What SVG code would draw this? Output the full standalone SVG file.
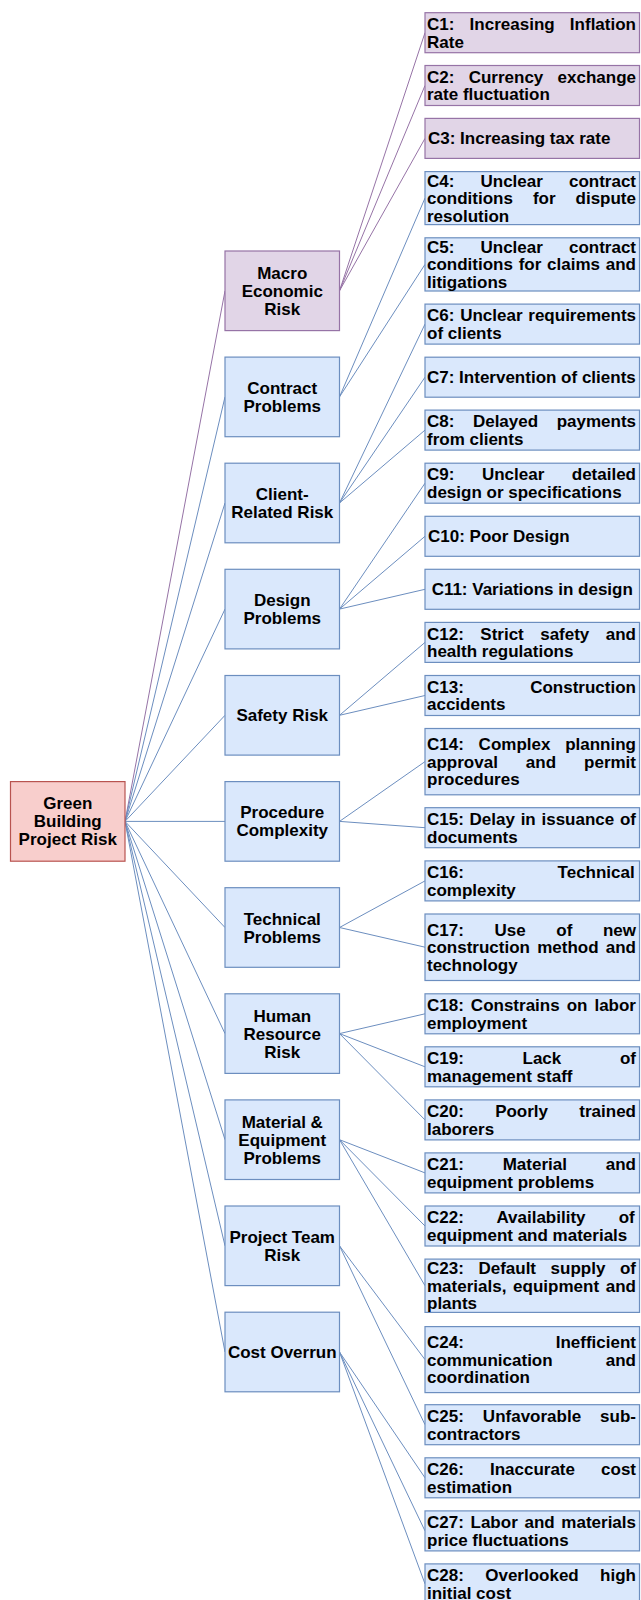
<svg xmlns="http://www.w3.org/2000/svg" width="641" height="1600" viewBox="0 0 641 1600">
  <style>
    .lbl { font-family: "Liberation Sans", Arial, Helvetica, sans-serif; font-weight: bold; font-size: 17px; fill: #000; }
    .mid { text-anchor: middle; }
    .root { fill: #f8cecc; stroke: #b85450; stroke-width: 1.2; }
    .pur { fill: #e1d5e7; stroke: #9673a6; stroke-width: 1.2; }
    .blu { fill: #dae8fc; stroke: #6c8ebf; stroke-width: 1.2; }
    .ep { stroke: #9673a6; stroke-width: 1; fill: none; }
    .eb { stroke: #6c8ebf; stroke-width: 1; fill: none; }
  </style>

  <!-- connectors: root to categories, categories to factors -->
  <g id="connectors">
    <line class="ep" x1="125" y1="821.4" x2="225" y2="290.8"/>
    <line class="ep" x1="339.5" y1="290.8" x2="425" y2="32.7"/>
    <line class="ep" x1="339.5" y1="290.8" x2="425" y2="85.5"/>
    <line class="ep" x1="339.5" y1="290.8" x2="425" y2="138.4"/>

    <line class="eb" x1="125" y1="821.4" x2="225" y2="396.9"/>
    <line class="eb" x1="125" y1="821.4" x2="225" y2="503"/>
    <line class="eb" x1="125" y1="821.4" x2="225" y2="609.1"/>
    <line class="eb" x1="125" y1="821.4" x2="225" y2="715.3"/>
    <line class="eb" x1="125" y1="821.4" x2="225" y2="821.4"/>
    <line class="eb" x1="125" y1="821.4" x2="225" y2="927.5"/>
    <line class="eb" x1="125" y1="821.4" x2="225" y2="1033.6"/>
    <line class="eb" x1="125" y1="821.4" x2="225" y2="1139.7"/>
    <line class="eb" x1="125" y1="821.4" x2="225" y2="1245.8"/>
    <line class="eb" x1="125" y1="821.4" x2="225" y2="1352"/>

    <line class="eb" x1="339.5" y1="396.9" x2="425" y2="198.1"/>
    <line class="eb" x1="339.5" y1="396.9" x2="425" y2="264.4"/>

    <line class="eb" x1="339.5" y1="503" x2="425" y2="324.1"/>
    <line class="eb" x1="339.5" y1="503" x2="425" y2="377.2"/>
    <line class="eb" x1="339.5" y1="503" x2="425" y2="430.1"/>

    <line class="eb" x1="339.5" y1="609.1" x2="425" y2="483.2"/>
    <line class="eb" x1="339.5" y1="609.1" x2="425" y2="536.3"/>
    <line class="eb" x1="339.5" y1="609.1" x2="425" y2="589.3"/>

    <line class="eb" x1="339.5" y1="715.3" x2="425" y2="642.4"/>
    <line class="eb" x1="339.5" y1="715.3" x2="425" y2="695.5"/>

    <line class="eb" x1="339.5" y1="821.4" x2="425" y2="761.6"/>
    <line class="eb" x1="339.5" y1="821.4" x2="425" y2="827.7"/>

    <line class="eb" x1="339.5" y1="927.5" x2="425" y2="880.9"/>
    <line class="eb" x1="339.5" y1="927.5" x2="425" y2="947.2"/>

    <line class="eb" x1="339.5" y1="1033.6" x2="425" y2="1013.8"/>
    <line class="eb" x1="339.5" y1="1033.6" x2="425" y2="1066.8"/>
    <line class="eb" x1="339.5" y1="1033.6" x2="425" y2="1119.9"/>

    <line class="eb" x1="339.5" y1="1139.7" x2="425" y2="1172.9"/>
    <line class="eb" x1="339.5" y1="1139.7" x2="425" y2="1226"/>
    <line class="eb" x1="339.5" y1="1139.7" x2="425" y2="1285.7"/>

    <line class="eb" x1="339.5" y1="1245.8" x2="425" y2="1359.6"/>
    <line class="eb" x1="339.5" y1="1245.8" x2="425" y2="1424.7"/>

    <line class="eb" x1="339.5" y1="1352" x2="425" y2="1477.8"/>
    <line class="eb" x1="339.5" y1="1352" x2="425" y2="1530.9"/>
    <line class="eb" x1="339.5" y1="1352" x2="425" y2="1583.9"/>
  </g>

  <!-- root -->
  <g id="root">
    <rect class="root" x="10.5" y="781.6" width="114.5" height="79.6"/>
    <text class="lbl mid" x="67.75" y="809.4">Green</text>
    <text class="lbl mid" x="67.75" y="827.4">Building</text>
    <text class="lbl mid" x="67.75" y="845.4">Project Risk</text>
  </g>

  <!-- risk categories -->
  <g id="macro">
    <rect class="pur" x="225" y="251" width="114.5" height="79.6"/>
    <text class="lbl mid" x="282.25" y="278.8">Macro</text>
    <text class="lbl mid" x="282.25" y="296.8">Economic</text>
    <text class="lbl mid" x="282.25" y="314.8">Risk</text>
  </g>
  <g id="contract">
    <rect class="blu" x="225" y="357.1" width="114.5" height="79.6"/>
    <text class="lbl mid" x="282.25" y="393.9">Contract</text>
    <text class="lbl mid" x="282.25" y="411.9">Problems</text>
  </g>
  <g id="client">
    <rect class="blu" x="225" y="463.2" width="114.5" height="79.6"/>
    <text class="lbl mid" x="282.25" y="500">Client-</text>
    <text class="lbl mid" x="282.25" y="518">Related Risk</text>
  </g>
  <g id="design">
    <rect class="blu" x="225" y="569.3" width="114.5" height="79.6"/>
    <text class="lbl mid" x="282.25" y="606.1">Design</text>
    <text class="lbl mid" x="282.25" y="624.1">Problems</text>
  </g>
  <g id="safety">
    <rect class="blu" x="225" y="675.5" width="114.5" height="79.6"/>
    <text class="lbl mid" x="282.25" y="721.3">Safety Risk</text>
  </g>
  <g id="procedure">
    <rect class="blu" x="225" y="781.6" width="114.5" height="79.6"/>
    <text class="lbl mid" x="282.25" y="818.4">Procedure</text>
    <text class="lbl mid" x="282.25" y="836.4">Complexity</text>
  </g>
  <g id="technical">
    <rect class="blu" x="225" y="887.7" width="114.5" height="79.6"/>
    <text class="lbl mid" x="282.25" y="924.5">Technical</text>
    <text class="lbl mid" x="282.25" y="942.5">Problems</text>
  </g>
  <g id="human">
    <rect class="blu" x="225" y="993.8" width="114.5" height="79.6"/>
    <text class="lbl mid" x="282.25" y="1021.6">Human</text>
    <text class="lbl mid" x="282.25" y="1039.6">Resource</text>
    <text class="lbl mid" x="282.25" y="1057.6">Risk</text>
  </g>
  <g id="material">
    <rect class="blu" x="225" y="1099.9" width="114.5" height="79.6"/>
    <text class="lbl mid" x="282.25" y="1127.7">Material &amp;</text>
    <text class="lbl mid" x="282.25" y="1145.7">Equipment</text>
    <text class="lbl mid" x="282.25" y="1163.7">Problems</text>
  </g>
  <g id="team">
    <rect class="blu" x="225" y="1206" width="114.5" height="79.6"/>
    <text class="lbl mid" x="282.25" y="1242.8">Project Team</text>
    <text class="lbl mid" x="282.25" y="1260.8">Risk</text>
  </g>
  <g id="cost">
    <rect class="blu" x="225" y="1312.2" width="114.5" height="79.6"/>
    <text class="lbl mid" x="282.25" y="1358">Cost Overrun</text>
  </g>

  <!-- risk factors -->
  <g id="c1">
    <rect class="pur" x="425" y="12.7" width="214.5" height="40"/>
    <text class="lbl" x="427" y="29.9" word-spacing="10.5">C1: Increasing Inflation</text>
    <text class="lbl" x="427" y="47.5">Rate</text>
  </g>
  <g id="c2">
    <rect class="pur" x="425" y="65.5" width="214.5" height="40"/>
    <text class="lbl" x="427" y="82.7" word-spacing="9.55">C2: Currency exchange</text>
    <text class="lbl" x="427" y="100.3">rate fluctuation</text>
  </g>
  <g id="c3">
    <rect class="pur" x="425" y="118.4" width="214.5" height="40"/>
    <text class="lbl" x="428" y="144.4">C3: Increasing tax rate</text>
  </g>
  <g id="c4">
    <rect class="blu" x="425" y="171.6" width="214.5" height="53"/>
    <text class="lbl" x="427" y="186.5" word-spacing="21.37">C4: Unclear contract</text>
    <text class="lbl" x="427" y="204.1" word-spacing="15.24">conditions for dispute</text>
    <text class="lbl" x="427" y="221.7">resolution</text>
  </g>
  <g id="c5">
    <rect class="blu" x="425" y="237.8" width="214.5" height="53.2"/>
    <text class="lbl" x="427" y="252.8" word-spacing="21.37">C5: Unclear contract</text>
    <text class="lbl" x="427" y="270.4" word-spacing="1.02">conditions for claims and</text>
    <text class="lbl" x="427" y="288">litigations</text>
  </g>
  <g id="c6">
    <rect class="blu" x="425" y="304.1" width="214.5" height="40"/>
    <text class="lbl" x="427" y="321.3" word-spacing="1.05">C6: Unclear requirements</text>
    <text class="lbl" x="427" y="338.9">of clients</text>
  </g>
  <g id="c7">
    <rect class="blu" x="425" y="357.2" width="214.5" height="40"/>
    <text class="lbl" x="427" y="383.2">C7: Intervention of clients</text>
  </g>
  <g id="c8">
    <rect class="blu" x="425" y="410.1" width="214.5" height="40"/>
    <text class="lbl" x="427" y="427.3" word-spacing="13.8">C8: Delayed payments</text>
    <text class="lbl" x="427" y="444.9">from clients</text>
  </g>
  <g id="c9">
    <rect class="blu" x="425" y="463.2" width="214.5" height="40"/>
    <text class="lbl" x="427" y="480.4" word-spacing="22.78">C9: Unclear detailed</text>
    <text class="lbl" x="427" y="498">design or specifications</text>
  </g>
  <g id="c10">
    <rect class="blu" x="425" y="516.3" width="214.5" height="40"/>
    <text class="lbl" x="428" y="542.3">C10: Poor Design</text>
  </g>
  <g id="c11">
    <rect class="blu" x="425" y="569.3" width="214.5" height="40"/>
    <text class="lbl mid" x="532.25" y="595.3">C11: Variations in design</text>
  </g>
  <g id="c12">
    <rect class="blu" x="425" y="622.4" width="214.5" height="40"/>
    <text class="lbl" x="427" y="639.6" word-spacing="11.72">C12: Strict safety and</text>
    <text class="lbl" x="427" y="657.2">health regulations</text>
  </g>
  <g id="c13">
    <rect class="blu" x="425" y="675.5" width="214.5" height="40"/>
    <text class="lbl" x="427" y="692.7" word-spacing="61.64">C13: Construction</text>
    <text class="lbl" x="427" y="710.3">accidents</text>
  </g>
  <g id="c14">
    <rect class="blu" x="425" y="728.5" width="214.5" height="66.3"/>
    <text class="lbl" x="427" y="750" word-spacing="10.04">C14: Complex planning</text>
    <text class="lbl" x="427" y="767.6" word-spacing="23.26">approval and permit</text>
    <text class="lbl" x="427" y="785.2">procedures</text>
  </g>
  <g id="c15">
    <rect class="blu" x="425" y="807.7" width="214.5" height="40"/>
    <text class="lbl" x="427" y="824.9" word-spacing="0.99">C15: Delay in issuance of</text>
    <text class="lbl" x="427" y="842.5">documents</text>
  </g>
  <g id="c16">
    <rect class="blu" x="425" y="860.9" width="214.5" height="40"/>
    <text class="lbl" x="427" y="878.1" word-spacing="89">C16: Technical</text>
    <text class="lbl" x="427" y="895.7">complexity</text>
  </g>
  <g id="c17">
    <rect class="blu" x="425" y="914" width="214.5" height="66.5"/>
    <text class="lbl" x="427" y="935.6" word-spacing="25.9">C17: Use of new</text>
    <text class="lbl" x="427" y="953.2" word-spacing="2.49">construction method and</text>
    <text class="lbl" x="427" y="970.8">technology</text>
  </g>
  <g id="c18">
    <rect class="blu" x="425" y="993.8" width="214.5" height="40"/>
    <text class="lbl" x="427" y="1011" word-spacing="2.28">C18: Constrains on labor</text>
    <text class="lbl" x="427" y="1028.6">employment</text>
  </g>
  <g id="c19">
    <rect class="blu" x="425" y="1046.8" width="214.5" height="40"/>
    <text class="lbl" x="427" y="1064" word-spacing="53.96">C19: Lack of</text>
    <text class="lbl" x="427" y="1081.6">management staff</text>
  </g>
  <g id="c20">
    <rect class="blu" x="425" y="1099.9" width="214.5" height="40"/>
    <text class="lbl" x="427" y="1117.1" word-spacing="26.56">C20: Poorly trained</text>
    <text class="lbl" x="427" y="1134.7">laborers</text>
  </g>
  <g id="c21">
    <rect class="blu" x="425" y="1152.9" width="214.5" height="40"/>
    <text class="lbl" x="427" y="1170.1" word-spacing="34.12">C21: Material and</text>
    <text class="lbl" x="427" y="1187.7">equipment problems</text>
  </g>
  <g id="c22">
    <rect class="blu" x="425" y="1206" width="214.5" height="40"/>
    <text class="lbl" x="427" y="1223.2" word-spacing="28.45">C22: Availability of</text>
    <text class="lbl" x="427" y="1240.8">equipment and materials</text>
  </g>
  <g id="c23">
    <rect class="blu" x="425" y="1259.1" width="214.5" height="53.3"/>
    <text class="lbl" x="427" y="1274.1" word-spacing="9.84">C23: Default supply of</text>
    <text class="lbl" x="427" y="1291.7" word-spacing="2">materials, equipment and</text>
    <text class="lbl" x="427" y="1309.3">plants</text>
  </g>
  <g id="c24">
    <rect class="blu" x="425" y="1326.6" width="214.5" height="66"/>
    <text class="lbl" x="427" y="1348" word-spacing="87.1">C24: Inefficient</text>
    <text class="lbl" x="427" y="1365.6" word-spacing="48.4">communication and</text>
    <text class="lbl" x="427" y="1383.2">coordination</text>
  </g>
  <g id="c25">
    <rect class="blu" x="425" y="1404.7" width="214.5" height="40"/>
    <text class="lbl" x="427" y="1421.9" word-spacing="14.29">C25: Unfavorable sub-</text>
    <text class="lbl" x="427" y="1439.5">contractors</text>
  </g>
  <g id="c26">
    <rect class="blu" x="425" y="1457.8" width="214.5" height="40"/>
    <text class="lbl" x="427" y="1475" word-spacing="21.36">C26: Inaccurate cost</text>
    <text class="lbl" x="427" y="1492.6">estimation</text>
  </g>
  <g id="c27">
    <rect class="blu" x="425" y="1510.9" width="214.5" height="40"/>
    <text class="lbl" x="427" y="1528.1" word-spacing="1.96">C27: Labor and materials</text>
    <text class="lbl" x="427" y="1545.7">price fluctuations</text>
  </g>
  <g id="c28">
    <rect class="blu" x="425" y="1563.9" width="214.5" height="40"/>
    <text class="lbl" x="427" y="1581.1" word-spacing="16.64">C28: Overlooked high</text>
    <text class="lbl" x="427" y="1598.7">initial cost</text>
  </g>
</svg>
